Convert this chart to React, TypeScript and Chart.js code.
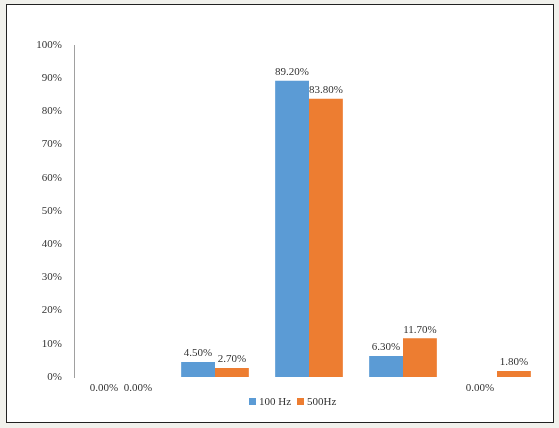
import React, { useEffect, useRef } from 'react';
import { Chart, registerables } from 'chart.js';

Chart.register(...registerables);

const categories = ['A', 'B', 'C', 'D', 'E'];
const seriesNames = ['100 Hz', '500Hz'];
const hz100 = [0, 4.5, 89.2, 6.3, 0];
const hz500 = [0, 2.7, 83.8, 11.7, 1.8];
const colors = ['#5b9bd5', '#ed7d31'];
const yTicks = [0, 10, 20, 30, 40, 50, 60, 70, 80, 90, 100];

const FONT = '"Liberation Serif", "Times New Roman", serif';

// value labels above the bars; zero values go under the baseline
const valueLabels = {
  id: 'valueLabels',
  afterDatasetsDraw(chart: any) {
    const ctx = chart.ctx;
    const yScale = chart.scales.y;
    const base = yScale.getPixelForValue(0);
    ctx.save();
    ctx.font = '11px ' + FONT;
    ctx.fillStyle = '#333';
    ctx.textAlign = 'center';
    chart.data.datasets.forEach((ds: any, i: number) => {
      const meta = chart.getDatasetMeta(i);
      meta.data.forEach((bar: any, j: number) => {
        const v = ds.data[j] as number;
        const txt = v.toFixed(2) + '%';
        if (v === 0) {
          ctx.textBaseline = 'middle';
          ctx.fillText(txt, bar.x, base + 11);
        } else {
          ctx.textBaseline = 'bottom';
          ctx.fillText(txt, bar.x, bar.y - 3);
        }
      });
    });
    ctx.restore();
  },
};

export default function App() {
  const canvasRef = useRef<HTMLCanvasElement>(null);
  const chartRef = useRef<Chart | null>(null);

  useEffect(() => {
    if (!canvasRef.current) return;
    if (chartRef.current) chartRef.current.destroy();

    chartRef.current = new Chart(canvasRef.current, {
      type: 'bar',
      data: {
        labels: categories,
        datasets: [
          { label: seriesNames[0], data: hz100, backgroundColor: colors[0], categoryPercentage: 0.72, barPercentage: 1 },
          { label: seriesNames[1], data: hz500, backgroundColor: colors[1], categoryPercentage: 0.72, barPercentage: 1 },
        ],
      },
      options: {
        animation: false,
        responsive: false,
        layout: { padding: { left: 0, right: 9, top: 40, bottom: 45 } },
        scales: {
          x: {
            display: false,
          },
          y: {
            min: 0,
            max: 100,
            afterFit: (s: any) => { s.width = 67; },
            afterBuildTicks: (s: any) => { s.ticks = yTicks.map((v) => ({ value: v })); },
            ticks: {
              color: '#333',
              padding: 4,
              font: { size: 11, family: FONT },
              callback: (v: any) => v + '%',
            },
            grid: { display: false },
            border: { display: true, color: '#a0a0a0', width: 1 },
          },
        },
        plugins: {
          legend: { display: false },
          tooltip: { enabled: false },
        },
      },
      plugins: [valueLabels],
    });

    return () => { if (chartRef.current) chartRef.current.destroy(); };
  }, []);

  return (
    <div style={{ position: 'absolute', left: 0, top: 0, width: 559, height: 428, background: '#f1f1ec' }}>
      <div style={{ position: 'absolute', left: 6, top: 4, width: 546, height: 417, border: '1px solid #222', background: '#fff' }}>
        <canvas ref={canvasRef} width={546} height={417} style={{ display: 'block' }} />
        <div style={{ position: 'absolute', left: 242, top: 390, display: 'flex', alignItems: 'center', font: '11px ' + FONT, color: '#333', whiteSpace: 'nowrap' }}>
          <span style={{ width: 7, height: 7, background: colors[0], display: 'inline-block', marginRight: 3 }} />
          <span style={{ marginRight: 6 }}>{seriesNames[0]}</span>
          <span style={{ width: 7, height: 7, background: colors[1], display: 'inline-block', marginRight: 3 }} />
          <span>{seriesNames[1]}</span>
        </div>
      </div>
    </div>
  );
}
